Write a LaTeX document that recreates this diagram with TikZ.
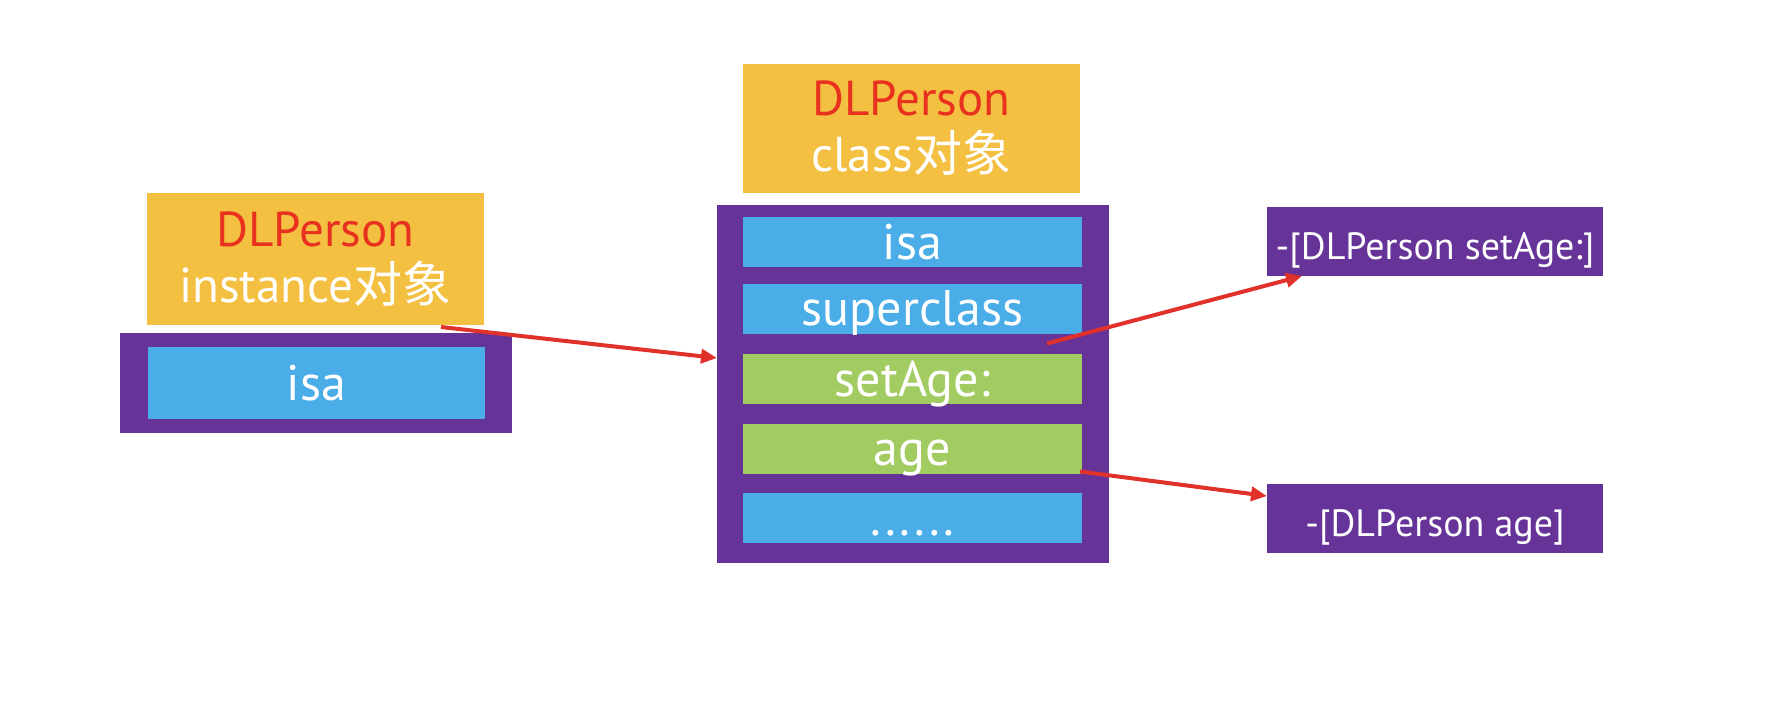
\documentclass[tikz,border=0pt]{standalone}
\usepackage{fontspec}
\setmainfont{PT Sans}
\newfontfamily\cjk{Noto Sans CJK SC}
\usetikzlibrary{arrows.meta}
\definecolor{titleYellow}{HTML}{F4C042}
\definecolor{framePurple}{HTML}{663399}
\definecolor{fieldBlue}{HTML}{4AADE8}
\definecolor{methGreen}{HTML}{A2CC62}
\definecolor{linkRed}{HTML}{E0322A}
\definecolor{nameRed}{HTML}{E8321F}
\begin{document}
\begin{tikzpicture}[x=.5pt,y=-.5pt,
  box/.style={inner sep=0pt,outer sep=0pt,text=white},
  title/.style={box,fill=titleYellow,minimum width=168.5pt,minimum height=65pt,align=center,font=\fontsize{24.5}{28}\selectfont},
  frame/.style={box,fill=framePurple},
  ivar/.style={box,fill=fieldBlue,minimum width=169.5pt,minimum height=25pt,text height=21pt,text depth=4pt,font=\fontsize{25}{28}\selectfont},
  meth/.style={ivar,fill=methGreen},
  imp/.style={box,fill=framePurple,minimum width=168pt,minimum height=34.5pt,text height=26pt,text depth=8.5pt,font=\fontsize{19}{22}\selectfont},
  link/.style={draw=linkRed,line width=2pt,-{Triangle[length=8pt,width=7pt]}}]
\useasboundingbox (0,0) rectangle (1774,714);

\node[title,minimum height=66pt] (instTitle) at (315.5,259) {\textcolor{nameRed}{DLPerson}\\instance{\cjk 对象}};
\node[frame,minimum width=196pt,minimum height=50pt] (instFrame) at (316,383) {};
\node[ivar,minimum width=168.5pt,minimum height=36pt,text height=26.5pt,text depth=9.5pt] (instIsa) at (316.5,383) {isa};

\node[title,minimum height=64.5pt] (classTitle) at (911.5,128.5) {\textcolor{nameRed}{DLPerson}\\class{\cjk 对象}};
\node[frame,minimum width=196pt,minimum height=179pt] (classFrame) at (913,384) {};
\node[ivar] (isa) at (912.5,242) {isa};
\node[ivar] (super) at (912.5,308.5) {superclass};
\node[meth] (setAge) at (912.5,379) {setAge:};
\node[meth] (age) at (912.5,448.5) {age};
\node[ivar] (more) at (912.5,518) {.\kern2pt.\kern2pt.\kern2pt.\kern2pt.\kern2pt.};

\node[imp] (setImp) at (1435,241.5) {-[DLPerson setAge:]};
\node[imp] (ageImp) at (1435,518.5) {-[DLPerson age]};

\draw[link] ([xshift=-21.5pt,yshift=-1pt]instTitle.south east) -- ([yshift=13pt]classFrame.west);
\draw[link] ([xshift=-17.5pt,yshift=-5pt]super.south east) -- ([xshift=17.5pt]setImp.south west);
\draw[link] ([xshift=-1pt,yshift=1pt]age.south east) -- ([yshift=-6pt]ageImp.north west);

\end{tikzpicture}
\end{document}
